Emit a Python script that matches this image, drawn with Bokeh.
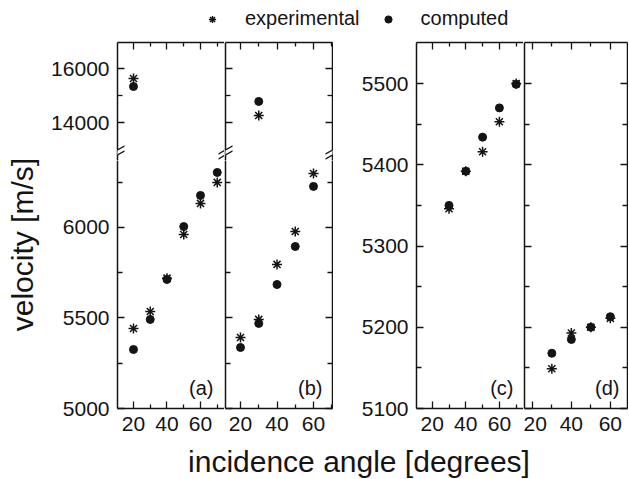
from bokeh.plotting import figure
from bokeh.models import Range1d, LinearAxis, FixedTicker, Label, PolyAnnotation, Legend, LegendItem
from bokeh.layouts import row, column
from bokeh.embed import file_html
from bokeh.resources import INLINE

# ---------------- data ----------------
angles_a = [20, 30, 40, 50, 60, 70]
exp_a = [5442, 5536, 5720, 5961, 6133, 6249]
comp_a = [5326, 5492, 5713, 6005, 6177, 6304]
angles_a_hi = [20]
exp_a_hi = [15630]
comp_a_hi = [15333]

angles_b = [20, 30, 40, 50, 60]
exp_b = [5392, 5492, 5796, 5978, 6298]
comp_b = [5337, 5470, 5685, 5895, 6227]
angles_b_hi = [30]
exp_b_hi = [14260]
comp_b_hi = [14780]

angles_c = [30, 40, 50, 60, 70]
exp_c = [5346, 5392, 5416, 5453, 5500]
comp_c = [5350, 5392, 5434, 5470, 5499]

angles_d = [30, 40, 50, 60]
exp_d = [5149, 5193, 5200, 5211]
comp_d = [5168, 5185, 5200, 5213]

x_major = [20, 40, 60]
x_minor = [30, 50, 70]
y_hi_major = [14000, 16000]
y_hi_minor = [15000]
y_lo_major = [5000, 5500, 6000]
y_lo_minor = [5250, 5750, 6250]
y_cd_major = [5100, 5200, 5300, 5400, 5500]
y_cd_minor = [5150, 5250, 5350, 5450]

series_names = ["experimental", "computed"]
panel_names = ["(a)", "(b)", "(c)", "(d)"]
xlabel = "incidence angle [degrees]"
ylabel = "velocity [m/s]"

# ---------------- style ----------------
FONT = "Liberation Sans"
INK = "#141414"
TICK_PX = "21px"


def make_fig(w, h, xr, yr, left, right, top, bottom):
    p = figure(width=w, height=h, x_range=Range1d(*xr), y_range=Range1d(*yr),
               output_backend="svg", toolbar_location=None,
               x_axis_location=None, y_axis_location=None,
               min_border_left=left, min_border_right=right,
               min_border_top=top, min_border_bottom=bottom)
    p.outline_line_color = None
    p.xgrid.visible = False
    p.ygrid.visible = False
    p.background_fill_color = "white"
    p.border_fill_color = "white"
    return p


def make_axis(major, minor, labeled, major_in, minor_in):
    ax = LinearAxis(ticker=FixedTicker(ticks=major, minor_ticks=minor))
    ax.axis_line_color = INK
    ax.axis_line_width = 1.5
    ax.major_tick_line_color = INK
    ax.minor_tick_line_color = INK
    ax.major_tick_line_width = 1.3
    ax.minor_tick_line_width = 1.3
    ax.major_tick_in = major_in
    ax.major_tick_out = 0
    ax.minor_tick_in = minor_in
    ax.minor_tick_out = 0
    if labeled:
        ax.major_label_text_font = FONT
        ax.major_label_text_font_size = TICK_PX
        ax.major_label_text_color = INK
        ax.major_label_standoff = 8
    else:
        ax.major_label_overrides = {t: "" for t in major}
        ax.major_label_text_font_size = "1px"
        ax.major_label_standoff = 0
    return ax


def xaxis(labeled):
    return make_axis(x_major, x_minor, labeled, 7, 4)


def plot_points(p, xs, exp, comp):
    p.scatter(xs, exp, marker="asterisk", size=10, line_color=INK, line_width=1.5)
    p.scatter(xs, comp, marker="circle", size=8, fill_color=INK, line_color=INK)


def frame(left, top, w, h, xr, yr):
    return dict(left=left, top=top, w=w, h=h, x0=xr[0], x1=xr[1], y0=yr[0], y1=yr[1])


def to_data(fr, px, py):
    x = fr["x0"] + (px - fr["left"]) / fr["w"] * (fr["x1"] - fr["x0"])
    y = fr["y1"] - (py - fr["top"]) / fr["h"] * (fr["y1"] - fr["y0"])
    return x, y


def add_break(p, fr, cx, cy):
    hw, rise, gap, th = 7.0, 8.0, 5.0, 1.5
    up = [(cx - hw, cy - gap / 2 + rise / 2), (cx + hw, cy - gap / 2 - rise / 2)]
    lo = [(cx - hw, cy + gap / 2 + rise / 2), (cx + hw, cy + gap / 2 - rise / 2)]
    white = [up[0], up[1], lo[1], lo[0]]
    pts = [to_data(fr, a, b) for a, b in white]
    p.add_layout(PolyAnnotation(xs=[q[0] for q in pts], ys=[q[1] for q in pts],
                                fill_color="white", fill_alpha=1.0, line_color=None))
    for ln in (up, lo):
        poly = [(ln[0][0], ln[0][1] - th / 2), (ln[1][0], ln[1][1] - th / 2),
                (ln[1][0], ln[1][1] + th / 2), (ln[0][0], ln[0][1] + th / 2)]
        pts = [to_data(fr, a, b) for a, b in poly]
        p.add_layout(PolyAnnotation(xs=[q[0] for q in pts], ys=[q[1] for q in pts],
                                    fill_color=INK, fill_alpha=1.0, line_color=None))


def add_panel_label(p, fr, text, px, py):
    x, y = to_data(fr, px, py)
    p.add_layout(Label(x=x, y=y, text=text, text_align="right", text_baseline="middle",
                       text_font=FONT, text_font_size="20px", text_color=INK))


def blank_fig(w, h):
    p = figure(width=w, height=h, x_range=Range1d(0, w), y_range=Range1d(0, h),
               output_backend="svg", toolbar_location=None,
               x_axis_location=None, y_axis_location=None,
               min_border_left=0, min_border_right=0, min_border_top=0, min_border_bottom=0)
    p.outline_line_color = None
    p.xgrid.visible = False
    p.ygrid.visible = False
    return p


# ---------------- ranges ----------------
xr_a = (10.45, 74.33)
xr_b = (11.78, 70.41)
xr_c = (10.65, 74.35)
xr_d = (15.97, 68.8)
yr_hi = (12593, 16963)
yr_lo = (5000, 6370)
yr_cd = (5100, 5550.5)

TOP_STRIP = 40
ROW_TOP = TOP_STRIP
TOP_B, BOT_B = 2, 34
UP_H = 118
LO_H = 248
CD_H = UP_H + LO_H
ROW_H = TOP_B + CD_H + BOT_B
BOT_H = 36
TOTAL_W = 628

# ---------------- panel (a) ----------------
a_up = make_fig(180, TOP_B + UP_H, xr_a, yr_hi, 73, 0, TOP_B, 0)
a_up.add_layout(make_axis(y_hi_major, y_hi_minor, True, 7, 5), "left")
a_up.add_layout(xaxis(False), "above")
plot_points(a_up, angles_a_hi, exp_a_hi, comp_a_hi)

a_lo = make_fig(180, LO_H + BOT_B, xr_a, yr_lo, 73, 0, 0, BOT_B)
a_lo.add_layout(make_axis(y_lo_major, y_lo_minor, True, 7, 5), "left")
a_lo.add_layout(xaxis(True), "below")
plot_points(a_lo, angles_a, exp_a, comp_a)

# ---------------- panel (b) ----------------
b_up = make_fig(109, TOP_B + UP_H, xr_b, yr_hi, 1, 1, TOP_B, 0)
b_up.add_layout(make_axis(y_hi_major, y_hi_minor, False, 7, 5), "left")
b_up.add_layout(make_axis(y_hi_major, y_hi_minor, False, 7, 5), "right")
b_up.add_layout(xaxis(False), "above")
plot_points(b_up, angles_b_hi, exp_b_hi, comp_b_hi)

b_lo = make_fig(109, LO_H + BOT_B, xr_b, yr_lo, 1, 1, 0, BOT_B)
b_lo.add_layout(make_axis(y_lo_major, y_lo_minor, False, 7, 5), "left")
b_lo.add_layout(make_axis(y_lo_major, y_lo_minor, False, 7, 5), "right")
b_lo.add_layout(xaxis(True), "below")
plot_points(b_lo, angles_b, exp_b, comp_b)

# ---------------- panel (c) ----------------
c = make_fig(190, ROW_H, xr_c, yr_cd, 83, 0, TOP_B, BOT_B)
c.add_layout(make_axis(y_cd_major, y_cd_minor, True, 7, 5), "left")
c.add_layout(xaxis(False), "above")
c.add_layout(xaxis(True), "below")
plot_points(c, angles_c, exp_c, comp_c)

# ---------------- panel (d) ----------------
d = make_fig(105, ROW_H, xr_d, yr_cd, 1, 1, TOP_B, BOT_B)
d.add_layout(make_axis(y_cd_major, y_cd_minor, False, 7, 5), "left")
d.add_layout(make_axis(y_cd_major, y_cd_minor, False, 7, 5), "right")
d.add_layout(xaxis(False), "above")
d.add_layout(xaxis(True), "below")
plot_points(d, angles_d, exp_d, comp_d)

# page geometry of the frames (for decorations)
F0 = ROW_TOP + TOP_B
fr_a_up = frame(117, F0, 107, UP_H, xr_a, yr_hi)
fr_a_lo = frame(117, F0 + UP_H, 107, LO_H, xr_a, yr_lo)
fr_b_up = frame(225, F0, 107, UP_H, xr_b, yr_hi)
fr_b_lo = frame(225, F0 + UP_H, 107, LO_H, xr_b, yr_lo)
fr_c = frame(416, F0, 107, CD_H, xr_c, yr_cd)
fr_d = frame(524, F0, 103, CD_H, xr_d, yr_cd)

BRK_Y = 152
add_break(a_up, fr_a_up, 117, BRK_Y)
add_break(a_up, fr_a_up, 225, BRK_Y)
add_break(b_up, fr_b_up, 225, BRK_Y)
add_break(b_up, fr_b_up, 332, BRK_Y)
add_break(c, fr_c, 332, BRK_Y)

LAB_Y = 387
add_panel_label(a_lo, fr_a_lo, panel_names[0], 213, LAB_Y)
add_panel_label(b_lo, fr_b_lo, panel_names[1], 322, LAB_Y)
add_panel_label(c, fr_c, panel_names[2], 513, LAB_Y)
add_panel_label(d, fr_d, panel_names[3], 619, LAB_Y)

# ---------------- legend strip ----------------
top = blank_fig(TOTAL_W, TOP_STRIP)
# one real point each (lies outside this strip's view, only the legend glyph shows)
r_exp = top.scatter(angles_a[:1], exp_a[:1], marker="asterisk", size=8,
                    line_color=INK, line_width=1.4)
r_comp = top.scatter(angles_a[:1], comp_a[:1], marker="circle", size=7,
                     fill_color=INK, line_color=INK)
legend = Legend(items=[LegendItem(label=series_names[0], renderers=[r_exp]),
                       LegendItem(label=series_names[1], renderers=[r_comp])],
                orientation="horizontal", location=(203, 10),
                border_line_color=None, background_fill_alpha=0,
                padding=0, margin=0, spacing=19, glyph_width=18, glyph_height=18,
                label_standoff=24, label_text_font=FONT, label_text_font_size="20px",
                label_text_color=INK)
top.add_layout(legend)

# ---------------- y label strip ----------------
ylab = blank_fig(44, ROW_H)
ylab.add_layout(Label(x=22, y=180, text=ylabel, angle=90, angle_units="deg",
                      text_align="center", text_baseline="middle",
                      text_font=FONT, text_font_size="30px", text_color=INK))

# ---------------- x label strip ----------------
bot = blank_fig(TOTAL_W, BOT_H)
bot.add_layout(Label(x=358.5, y=17, text=xlabel, text_align="center", text_baseline="middle",
                     text_font=FONT, text_font_size="30px", text_color=INK))

layout = column(top,
                row(ylab, column(a_up, a_lo), column(b_up, b_lo), c, d),
                bot)

open("out.html", "w").write(file_html(layout, INLINE))
